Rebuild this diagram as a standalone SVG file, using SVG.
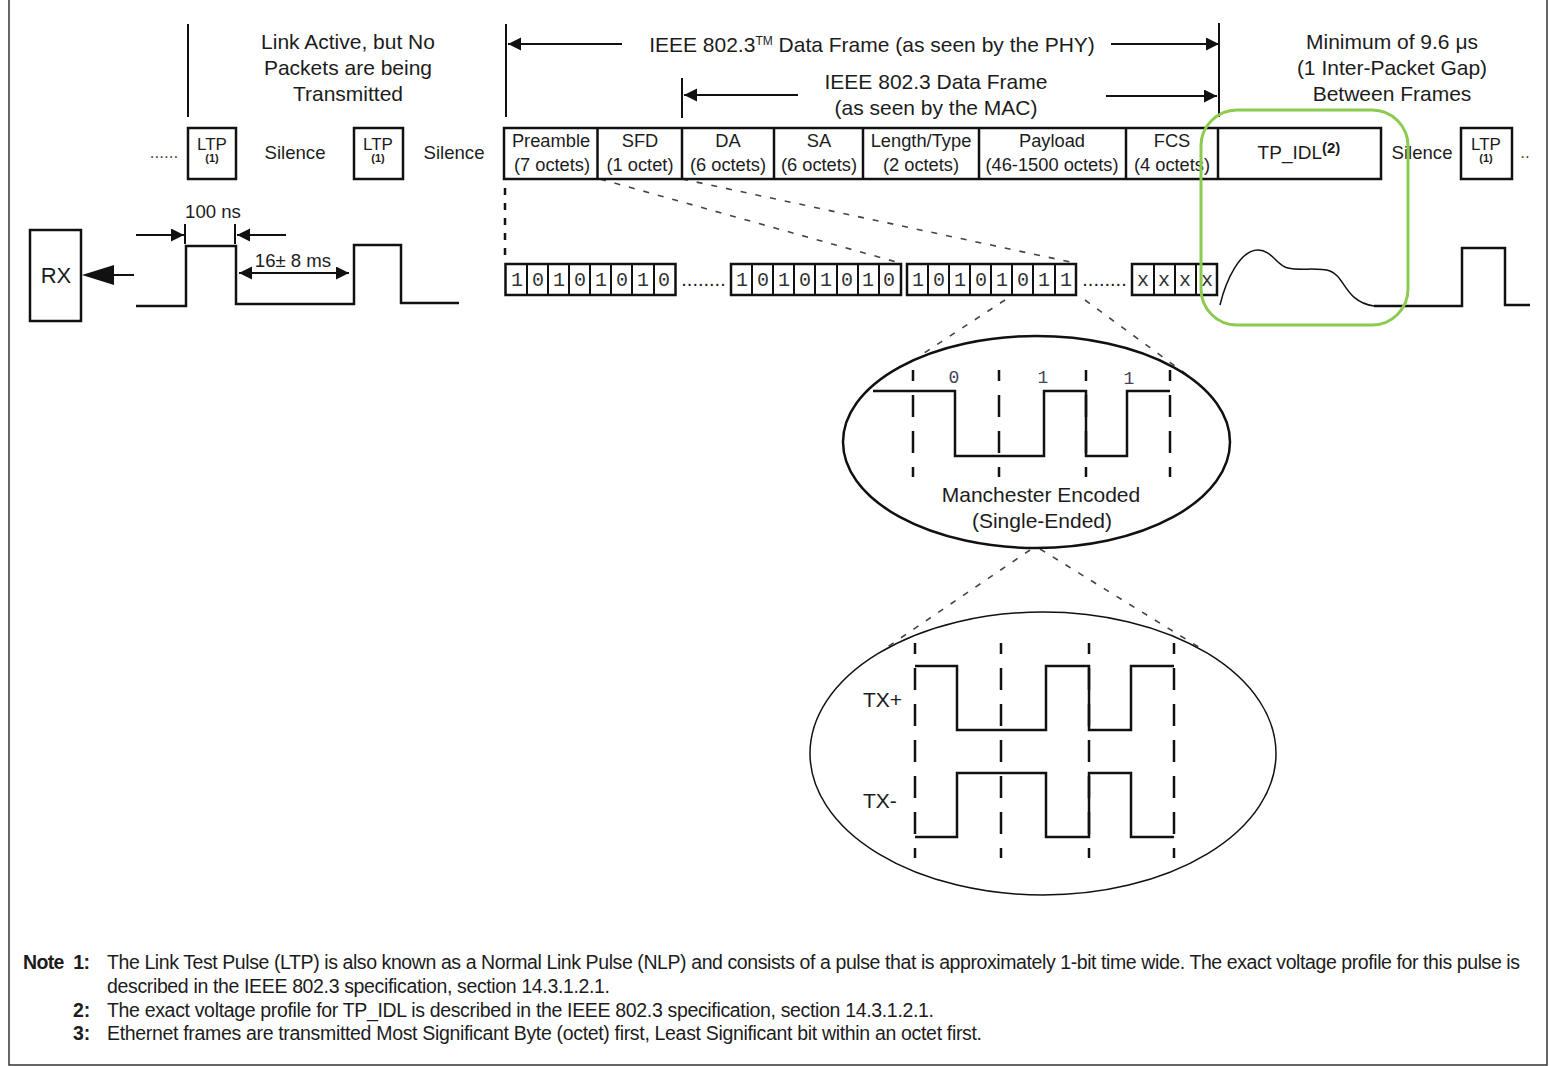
<svg xmlns="http://www.w3.org/2000/svg" width="1549" height="1066" viewBox="0 0 1549 1066">
<style>
text{font-family:"Liberation Sans",Arial,sans-serif;font-size:21px;fill:#1c1c1c;text-anchor:middle}
.s{text-anchor:start}
.b{font-weight:bold}
.n{font-size:19.5px;text-anchor:start}
.c{font-size:18.300px}
.tp{font-size:19px}
.rxt{font-size:22px}
.ltp{font-size:17px}
.fn{font-size:11px;font-weight:bold}
.sm{font-size:18.600px}
.dot{font-size:17px;fill:#444}
.dots{font-size:20px}
.bit{font-family:"Liberation Mono",monospace;font-size:20px;fill:#333}
.mb{font-family:"Liberation Mono",monospace;font-size:18px;fill:#445}
.box{fill:none;stroke:#111;stroke-width:2.5}
.thin{fill:none;stroke:#111;stroke-width:1.5}
.w{fill:none;stroke:#111;stroke-width:2.5}
.l{fill:none;stroke:#111;stroke-width:2}
.a{fill:none;stroke:#111;stroke-width:2}
.dd{fill:none;stroke:#444;stroke-width:1.6;stroke-dasharray:6 9}
.vd{fill:none;stroke:#111;stroke-width:2.5;stroke-dasharray:22 14;stroke-dashoffset:11}
</style>
<defs>
<marker id="ah" markerUnits="userSpaceOnUse" markerWidth="14" markerHeight="14" refX="13" refY="6.5" orient="auto-start-reverse"><path d="M0 0L13 6.5L0 13Z" fill="#111"/></marker>
</defs>
<rect width="1549" height="1066" fill="#fff"/>
<path id="frame" d="M9 0V1065H1547V0" fill="none" stroke="#333" stroke-width="1.5"/>

<g id="connectors">
<path class="l" d="M188 24V117M506 24V117M682 78V118M1219 23V117"/>
<path class="a" marker-end="url(#ah)" d="M622 44H508"/>
<path class="a" marker-end="url(#ah)" d="M1111 44H1219"/>
<path class="a" marker-end="url(#ah)" d="M798 95H684"/>
<path class="a" marker-end="url(#ah)" d="M1106 96H1217"/>
<path class="a" marker-end="url(#ah)" d="M136 235H184"/>
<path class="a" marker-end="url(#ah)" d="M286 235H237"/>
<path class="l" d="M185 224V244M235 224V244"/>
<path class="a" marker-start="url(#ah)" marker-end="url(#ah)" d="M239 273H349"/>
<path class="a" d="M134 275H110"/>
<path d="M82 275L114 265V285Z" fill="#111"/>
<path d="M505 188V262" fill="none" stroke="#111" stroke-width="2.5" stroke-dasharray="7 8"/>
<path class="dd" d="M600 179L900 263M682 179L1075 263M1005 300L918 357M1085 300L1190 377M1030 550L883 650M1040 549L1205 651"/>
</g>

<g id="ltp-1"><rect class="box" x="188" y="128" width="48" height="51"/><text class="ltp" x="212" y="150">LTP</text><text class="fn" x="212" y="162">(1)</text></g>
<g id="ltp-2"><rect class="box" x="354" y="128" width="49" height="51"/><text class="ltp" x="378" y="150">LTP</text><text class="fn" x="378" y="162">(1)</text></g>
<g id="ltp-3"><rect class="box" x="1461" y="128" width="51" height="51"/><text class="ltp" x="1486" y="150">LTP</text><text class="fn" x="1486" y="162">(1)</text></g>

<g id="labels">
<text x="348" y="49">Link Active, but No</text>
<text x="348" y="75">Packets are being</text>
<text x="348" y="101">Transmitted</text>
<text x="872" y="52">IEEE 802.3<tspan font-size="12" dy="-7">TM</tspan><tspan dy="7"> Data Frame (as seen by the PHY)</tspan></text>
<text x="936" y="89">IEEE 802.3 Data Frame</text>
<text x="936" y="115">(as seen by the MAC)</text>
<text x="1392" y="49">Minimum of 9.6 μs</text>
<text x="1392" y="75">(1 Inter-Packet Gap)</text>
<text x="1392" y="101">Between Frames</text>
<text class="sm" x="295" y="159">Silence</text>
<text class="sm" x="454" y="159">Silence</text>
<text class="sm" x="1422" y="159">Silence</text>
<text class="dot" x="164" y="158">......</text>
<text class="dot" x="1525" y="158">..</text>
<text class="sm" x="213" y="218">100 ns</text>
<text class="sm" x="293" y="267">16± 8 ms</text>
<text x="1041" y="502">Manchester Encoded</text>
<text x="1042" y="528">(Single-Ended)</text>
<text class="s" x="863" y="707">TX+</text>
<text class="s" x="863" y="808">TX-</text>
</g>

<g id="frame-row">
<rect class="box" x="504" y="128" width="877" height="51"/>
<path class="box" d="M597.500 128V179M682 128V179M774 128V179M863 128V179M979 128V179M1126 128V179M1218 128V179"/>
<text class="c" x="551" y="147">Preamble</text><text class="c" x="552" y="171">(7 octets)</text>
<text class="c" x="640" y="147">SFD</text><text class="c" x="640" y="171">(1 octet)</text>
<text class="c" x="728" y="147">DA</text><text class="c" x="728" y="171">(6 octets)</text>
<text class="c" x="819" y="147">SA</text><text class="c" x="819" y="171">(6 octets)</text>
<text class="c" x="921" y="147">Length/Type</text><text class="c" x="921" y="171">(2 octets)</text>
<text class="c" x="1052" y="147">Payload</text><text class="c" x="1052" y="171">(46-1500 octets)</text>
<text class="c" x="1172" y="147">FCS</text><text class="c" x="1172" y="171">(4 octets)</text>
<text class="tp" x="1299" y="159">TP_IDL<tspan class="b" font-size="15" dy="-6">(2)</tspan></text>
</g>

<g id="rx"><rect class="box" x="30" y="230" width="51" height="91"/><text class="rxt" x="56" y="283">RX</text></g>

<g id="waves">
<path class="w" d="M136 306H186V246H236V304H354V245H401V303H459"/>
<path class="thin" d="M1220 305C1226 280 1240 250 1258 250C1272 250 1277 266 1288 268C1300 271 1318 267 1330 271C1345 276 1345 302 1374 306"/>
<path class="w" d="M1374 306H1462V248H1505V305H1530"/>
</g>

<g id="bits-1">
<rect class="box" x="505.500" y="264" width="170" height="31"/>
<path class="l" d="M527 264V295M548 264V295M569 264V295M590 264V295M611 264V295M632 264V295M654 264V295"/>
<text class="bit" x="517" y="286">1</text><text class="bit" x="538" y="286">0</text><text class="bit" x="559" y="286">1</text><text class="bit" x="580" y="286">0</text><text class="bit" x="601" y="286">1</text><text class="bit" x="622" y="286">0</text><text class="bit" x="643" y="286">1</text><text class="bit" x="664" y="286">0</text>
</g>
<text class="dots" x="703.500" y="286">........</text>
<g id="bits-2">
<rect class="box" x="731" y="264" width="170" height="31"/>
<path class="l" d="M752 264V295M773 264V295M794 264V295M815 264V295M837 264V295M858 264V295M879 264V295"/>
<text class="bit" x="742" y="286">1</text><text class="bit" x="763" y="286">0</text><text class="bit" x="784" y="286">1</text><text class="bit" x="805" y="286">0</text><text class="bit" x="826" y="286">1</text><text class="bit" x="847" y="286">0</text><text class="bit" x="868" y="286">1</text><text class="bit" x="889" y="286">0</text>
</g>
<g id="bits-3">
<rect class="box" x="907" y="264" width="169" height="31"/>
<path class="l" d="M928 264V295M949 264V295M970 264V295M991 264V295M1012 264V295M1033 264V295M1055 264V295"/>
<text class="bit" x="918" y="286">1</text><text class="bit" x="939" y="286">0</text><text class="bit" x="960" y="286">1</text><text class="bit" x="981" y="286">0</text><text class="bit" x="1002" y="286">1</text><text class="bit" x="1023" y="286">0</text><text class="bit" x="1044" y="286">1</text><text class="bit" x="1066" y="286">1</text>
</g>
<text class="dots" x="1104.500" y="286">........</text>
<g id="bits-4">
<rect class="box" x="1132" y="264" width="85" height="31"/>
<path class="l" d="M1154 264V295M1175 264V295M1196 264V295"/>
<text class="bit" x="1143" y="286">x</text><text class="bit" x="1164" y="286">x</text><text class="bit" x="1185" y="286">x</text><text class="bit" x="1207" y="286">x</text>
</g>

<g id="manchester">
<ellipse class="box" cx="1036.500" cy="442" rx="193.500" ry="106"/>
<path class="vd" d="M913 370V477M999 370V477M1086 370V477M1170 370V477"/>
<path class="w" d="M873 391H955V456H1044V391H1086V456H1127V391H1170"/>
<text class="mb" x="954" y="383">0</text><text class="mb" x="1043" y="383">1</text><text class="mb" x="1129" y="384">1</text>
</g>

<g id="differential">
<ellipse class="thin" cx="1043" cy="753.500" rx="233" ry="141.500"/>
<path class="vd" d="M915 643V858M1001 643V858M1089 643V858M1174 643V858"/>
<path class="w" d="M915 666H957V730H1046V666H1089V730H1131V666H1174"/>
<path class="w" d="M915 837H957V773H1046V837H1089V773H1131V837H1174"/>
</g>

<rect id="highlight" x="1201" y="110" width="207" height="215" rx="36" fill="none" stroke="#8ccb50" stroke-width="3"/>

<g id="notes">
<text class="n b" x="23" y="969" textLength="67" xml:space="preserve">Note  1:</text>
<text class="n" x="107" y="969" textLength="1413">The Link Test Pulse (LTP) is also known as a Normal Link Pulse (NLP) and consists of a pulse that is approximately 1-bit time wide. The exact voltage profile for this pulse is</text>
<text class="n" x="107" y="993" textLength="503">described in the IEEE 802.3 specification, section 14.3.1.2.1.</text>
<text class="n b" x="73" y="1017">2:</text>
<text class="n" x="107" y="1017" textLength="827">The exact voltage profile for TP_IDL is described in the IEEE 802.3 specification, section 14.3.1.2.1.</text>
<text class="n b" x="73" y="1040">3:</text>
<text class="n" x="107" y="1040" textLength="875">Ethernet frames are transmitted Most Significant Byte (octet) first, Least Significant bit within an octet first.</text>
</g>
</svg>
